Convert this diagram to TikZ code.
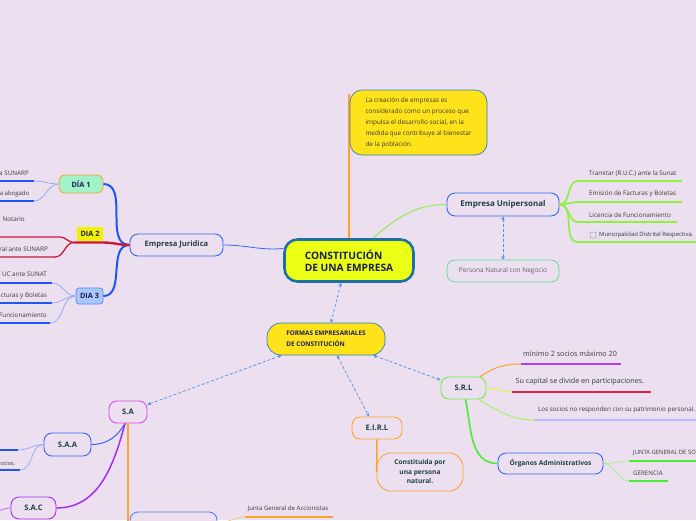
\documentclass[tikz,border=0pt]{standalone}
\usepackage{fontspec}
\setmainfont{Open Sans}
\setsansfont{Open Sans}
\usetikzlibrary{calc,arrows.meta}
\definecolor{bg}{HTML}{ECDFEF}
\definecolor{mainfill}{HTML}{EBFF14}
\definecolor{mainborder}{HTML}{1E6FA5}
\definecolor{noteyellow}{HTML}{FFE31A}
\definecolor{noteborder}{HTML}{2A7FC0}
\definecolor{topictext}{HTML}{1E4040}
\definecolor{navy}{HTML}{1A1F55}
\definecolor{tblue}{HTML}{3366F5}
\definecolor{dblue}{HTML}{1F55F0}
\definecolor{lblue}{HTML}{8FA8F2}
\definecolor{lgreen}{HTML}{8CF03C}
\definecolor{bgreen}{HTML}{44EE33}
\definecolor{paleg}{HTML}{A8F070}
\definecolor{corange}{HTML}{FFA22A}
\definecolor{lorange}{HTML}{FFC070}
\definecolor{cmagenta}{HTML}{E244EE}
\definecolor{cpurple}{HTML}{A52EF0}
\definecolor{lpurple}{HTML}{C070F0}
\definecolor{ulpurple}{HTML}{B040F0}
\definecolor{dred}{HTML}{C8183A}
\definecolor{ured}{HTML}{E02040}
\definecolor{cyellow}{HTML}{F0F040}
\definecolor{lav}{HTML}{B4BCFF}
\definecolor{dashblue}{HTML}{4D92E6}
\definecolor{leafgray}{HTML}{3A3A3A}
\definecolor{mint}{HTML}{A2F2C8}
\definecolor{bright}{HTML}{F2F200}
\definecolor{lbluefill}{HTML}{A8C8F8}
\definecolor{persgreen}{HTML}{55E090}
\definecolor{srlgreen}{HTML}{70EE40}
\definecolor{bbblue}{HTML}{5580F8}
\tikzset{
  x=1pt,y=1pt,
  topic/.style={draw, line width=0.9pt, rounded corners=8pt, fill=bg,
    font=\bfseries\fontsize{7.6}{9}\selectfont, text=topictext,
    inner sep=0pt, minimum height=22pt},
  leaf/.style={font=\fontsize{6.3}{7.5}\selectfont, text=leafgray, inner sep=0pt},
  dasharrow/.style={dashblue, line width=0.7pt, dash pattern=on 3pt off 2pt,
    {Stealth[length=3.5pt,width=3.5pt]}-{Stealth[length=3.5pt,width=3.5pt]}},
  dayfont/.style={font=\bfseries\fontsize{7.3}{8.5}\selectfont, text=navy, inner sep=0pt}
}
\begin{document}
\begin{tikzpicture}
\useasboundingbox (0,0) rectangle (696,-520);
\fill[bg] (0,0) rectangle (696,-520);
\clip (0,0) rectangle (696,-520);

% ---------- central node and note ----------
\node[draw=mainborder, line width=2.6pt, fill=mainfill, minimum width=129pt,
  minimum height=42pt, rounded corners=13pt, text=navy, inner sep=0pt,
  font=\bfseries\fontsize{10.2}{12}\selectfont, align=left] (main) at (349,-260.5)
  {CONSTITUCIÓN\\DE UNA EMPRESA};
\coordinate (notetop) at (349,-94);
\draw[corange, line width=1.5pt] (main.north) -- (notetop);
\node[draw=noteborder, line width=0.7pt, fill=noteyellow, minimum width=137pt,
  minimum height=65pt, rounded corners=12pt, align=left, inner sep=0pt,
  font=\fontsize{6.4}{11}\selectfont, text=leafgray] (note) at (418.5,-122.5)
  {La creación de empresas es\\considerado como un proceso que\\impulsa el desarrollo social, en la\\medida que contribuye al bienestar\\de la población.};

% ---------- Empresa Unipersonal ----------
\node[topic, draw=tblue, minimum width=112pt, minimum height=23pt,
  font=\bfseries\fontsize{8}{9}\selectfont] (uni) at (503,-204.5) {Empresa Unipersonal};
\node[topic, draw=persgreen, line width=0.7pt, minimum width=112pt, minimum height=22pt,
  font=\fontsize{6.5}{8}\selectfont, text=leafgray!80] (pers) at (503,-271) {Persona Natural con Negocio};
\draw[lgreen, line width=0.9pt] ($(main.north east)+(-42,0)$) to[out=40,in=180] (uni.west);
\draw[dasharrow] (uni.south) -- (pers.north);

\coordinate (u1) at (578,-181);
\coordinate (u2) at (578,-202);
\coordinate (u3) at (578,-222);
\coordinate (u4) at (578,-242);
\draw[lgreen, line width=1.3pt] (u1) -- (682,-181);
\draw[lgreen, line width=1.3pt] (u2) -- (682,-202);
\draw[lgreen, line width=1.3pt] (u3) -- (677,-222);
\draw[lgreen, line width=1.3pt] (u4) -- (700,-242);
\foreach \u in {u1,u2,u3,u4}
  \draw[lgreen, line width=1.6pt] (uni.east) to[out=0,in=180] (\u);
\node[leaf, anchor=west] (t1) at (589,-174) {Tramitar (R.U.C.) ante la Sunat};
\node[leaf, anchor=west] (t2) at (589,-194) {Emisión de Facturas y Boletas};
\node[leaf, anchor=west] (t3) at (589,-215) {Licencia de Funcionamiento};
\node[draw=gray!80, fill=bg, line width=0.5pt, rounded corners=1pt, minimum size=6pt,
  inner sep=0pt] (chk) at (593,-235) {};
\node[leaf, anchor=west, font=\fontsize{5.9}{7}\selectfont] (t4) at (599,-235) {Municipalidad Distrital Respectiva.};

% ---------- Empresa Juridica ----------
\node[topic, draw=tblue, minimum width=93pt] (ej) at (176.5,-245) {Empresa Juridica};
\draw[tblue, line width=0.8pt] (ej.east) to[out=0,in=185] ($(main.west)+(0,12)$);

\node[draw=corange, fill=mint, line width=0.8pt, rounded corners=6pt, minimum width=44pt,
  minimum height=18pt, dayfont] (d1) at (81,-184) {DÍA 1};
\node[fill=bright, minimum width=26pt, minimum height=14pt, dayfont] (d2) at (90,-233.5) {DIA 2};
\node[draw=tblue!80, fill=lbluefill, line width=0.7pt, rounded corners=3pt, minimum width=27pt,
  minimum height=16pt, dayfont] (d3) at (89.5,-296) {DIA 3};

\draw[dblue, line width=2pt] (ej.west) to[out=180,in=0] (d1.east);
\draw[dblue, line width=2pt] (ej.west) to[out=180,in=0] (d3.east);
\coordinate (d2a) at (103,-242.5);
\coordinate (d2b) at (74,-242.5);
\draw[dred, line width=2.4pt] (ej.west) to[out=180,in=0] (d2a) -- (d2b);

% DIA 1 leaves
\coordinate (a1) at (34,-181);
\coordinate (a2) at (34,-201);
\draw[dblue, line width=1.3pt] (a1) -- (-5,-181);
\draw[dblue, line width=1.3pt] (a2) -- (-5,-201);
\draw[lblue, line width=0.7pt] (d1.west) to[out=180,in=0] (a1);
\draw[lblue, line width=0.7pt] (d1.west) to[out=180,in=0] (a2);
\node[leaf, anchor=east] (l1) at (29,-173) {a SUNARP};
\node[leaf, anchor=east, font=\fontsize{6}{7}\selectfont] (l2) at (29.5,-194) {a abogado};

% DIA 2 leaves
\coordinate (r1) at (60,-237);
\coordinate (r2) at (55,-257);
\draw[dred, line width=1.3pt] (d2b) to[out=180,in=0] (r1) -- (-5,-237);
\draw[dred, line width=1.3pt] (d2b) to[out=180,in=0] (r2) -- (-5,-257);
\node[leaf, anchor=east] (l3) at (25,-219) {Notario};
\node[leaf, anchor=east] (l4) at (48,-249) {ral ante SUNARP};

% DIA 3 leaves
\coordinate (b1) at (52,-283);
\coordinate (b2) at (52,-303);
\coordinate (b3) at (50,-323);
\draw[dblue, line width=1.3pt] (b1) -- (-5,-283);
\draw[dblue, line width=1.3pt] (b2) -- (-5,-303);
\draw[dblue, line width=1.3pt] (b3) -- (-5,-323);
\foreach \b in {b1,b2,b3}
  \draw[lblue, line width=0.7pt] (d3.west) to[out=180,in=0] (\b);
\node[leaf, anchor=east] (l5) at (47,-274) {UC ante SUNAT};
\node[leaf, anchor=east] (l6) at (47,-296) {cturas y Boletas};
\node[leaf, anchor=east] (l7) at (47,-315) {Funcionamiento};

% ---------- Formas empresariales ----------
\node[draw=noteborder, line width=0.7pt, fill=noteyellow, rounded corners=14pt,
  minimum width=118pt, minimum height=32pt, align=left, inner sep=0pt,
  font=\bfseries\fontsize{6.4}{11}\selectfont, text=navy] (formas) at (326,-339)
  {FORMAS EMPRESARIALES\\DE CONSTITUCIÓN};
\draw[dasharrow] ($(main.south)+(-8,0)$) -- ($(formas.north)+(5,0)$);

% ---------- S.A ----------
\node[topic, draw=cmagenta, minimum width=38pt] (sa) at (128,-412) {S.A};
\node[topic, draw=tblue, minimum width=47pt, minimum height=23pt] (saa) at (67.5,-444.5) {S.A.A};
\node[topic, draw=cpurple, minimum width=45pt] (sac) at (33.5,-508) {S.A.C};
\node[topic, draw=bbblue, minimum width=87pt] (bb) at (173.5,-523) {};
\draw[dasharrow] ($(formas.south west)+(15,0)$) -- ($(sa.north east)+(0,-4)$);
\coordinate (saend) at (128,-530);
\draw[corange, line width=1.5pt] (sa.south) -- (saend);
\draw[tblue, line width=1pt] ($(sa.south)+(-3,0)$) to[out=-120,in=0] (saa.east);
\draw[cpurple, line width=1.5pt] ($(sa.south)+(-3,0)$) to[out=-105,in=0] (sac.east);
\coordinate (sacl) at (-5,-511);
\draw[lpurple, line width=0.8pt] (sac.west) to[out=180,in=0] (sacl);
\coordinate (s1) at (18,-450);
\coordinate (s2) at (20,-470);
\draw[dblue, line width=1.3pt] (s1) -- (-5,-450);
\draw[dblue, line width=1.3pt] (s2) -- (-5,-470);
\draw[lblue, line width=0.7pt] (saa.west) to[out=180,in=0] (s1);
\draw[lblue, line width=0.7pt] (saa.west) to[out=180,in=0] (s2);
\node[leaf, anchor=east, font=\fontsize{5.6}{7}\selectfont] (l8) at (15.5,-463) {ocios.};
\coordinate (jg) at (245,-517);
\draw[corange, line width=1.3pt] (jg) -- (333,-517);
\draw[lorange, line width=0.7pt] (bb.east) to[out=0,in=180] (jg);
\node[leaf, font=\fontsize{6.1}{7}\selectfont] (l9) at (288,-509) {Junta General de Accionistas};

% ---------- E.I.R.L ----------
\node[topic, draw=corange, minimum width=50pt] (eirl) at (377,-428) {E.I.R.L};
\node[draw=corange, line width=0.8pt, fill=bg, rounded corners=14pt, minimum width=86pt,
  minimum height=38pt, align=center, inner sep=0pt,
  font=\bfseries\fontsize{6.6}{9.5}\selectfont, text=topictext] (const) at (420,-472)
  {Constituida por\\una persona\\natural.};
\draw[corange, line width=1.5pt] (eirl.south) -- (const.west);
\draw[dasharrow] ($(formas.south)+(11,0)$) -- ($(eirl.north)+(-8,0)$);

% ---------- S.R.L ----------
\node[topic, draw=srlgreen, minimum width=45pt] (srl) at (463.5,-388) {S.R.L};
\draw[dasharrow] ($(formas.south east)+(-12,0)$) -- ($(srl.west)+(0,8)$);
\coordinate (m1) at (521,-364);
\coordinate (m2) at (512,-392);
\coordinate (m3) at (535,-420);
\draw[ulpurple, line width=1.4pt] (m1) -- (621,-364);
\draw[ured, line width=1.4pt] (m2) -- (651,-392);
\draw[lav, line width=1.4pt] (m3) -- (700,-420);
\draw[corange, line width=1pt] ($(srl.north east)+(-6,0)$) to[out=35,in=180] (m1);
\draw[cyellow, line width=1pt] (srl.east) to[out=0,in=180] (m2);
\draw[paleg, line width=1pt] ($(srl.south east)+(-8,0)$) to[out=-30,in=180] (m3);
\node[leaf, font=\fontsize{7.2}{8}\selectfont] (n1) at (570,-354) {mínimo 2 socios máximo 20};
\node[leaf, font=\fontsize{7.2}{8}\selectfont] (n2) at (580,-382) {Su capital se divide en participaciones.};
\node[leaf, anchor=west, font=\fontsize{6.3}{7.5}\selectfont] (n3) at (538,-410) {Los socios no responden con su patrimonio personal.};

\node[topic, draw=tblue, minimum width=105pt, minimum height=21pt,
  font=\bfseries\fontsize{6.6}{8}\selectfont] (org) at (550.5,-463.5) {Órganos Administrativos};
\draw[bgreen, line width=1.6pt] ($(srl.south)+(2,0)$) to[out=-78,in=180] (org.west);
\coordinate (j1) at (629,-461);
\coordinate (j2) at (629,-481);
\draw[bgreen, line width=1.4pt] (j1) -- (700,-461);
\draw[bgreen, line width=1.4pt] (j2) -- (668,-481);
\draw[paleg, line width=0.7pt] (org.east) to[out=0,in=180] (j1);
\draw[paleg, line width=0.7pt] (org.east) to[out=0,in=180] (j2);
\node[leaf, anchor=west, font=\fontsize{5.9}{7}\selectfont] (o1) at (633,-453) {JUNTA GENERAL DE SO};
\node[leaf, anchor=west, font=\fontsize{6.2}{7}\selectfont] (o2) at (633,-473) {GERENCIA};
\end{tikzpicture}
\end{document}
